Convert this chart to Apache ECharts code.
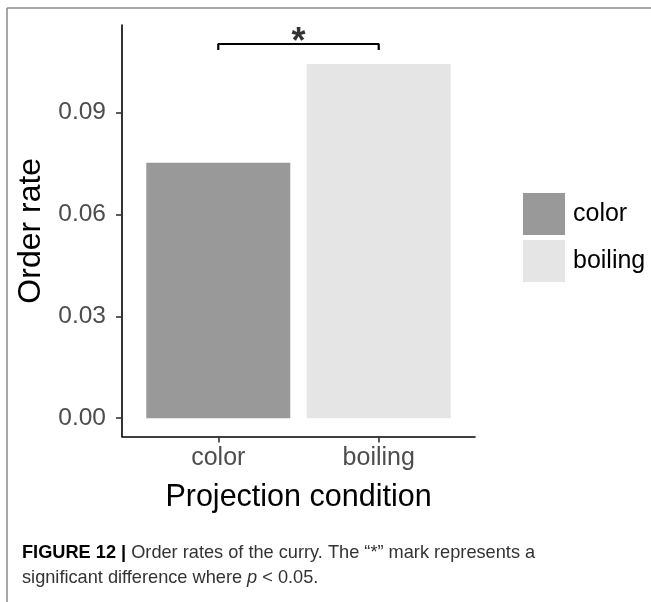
<!DOCTYPE html>
<html>
<head>
<meta charset="utf-8">
<script src="https://cdn.jsdelivr.net/npm/echarts@6/dist/echarts.min.js"></script>
<style>html,body{margin:0;padding:0;background:#fff;}#main{width:651px;height:602px;}</style>
</head>
<body>
<div id="main"></div>
<script>
// ---- data ----
const categories = ['color', 'boiling'];
const categoryPos = [1, 2];
const orderRate = [0.0752, 0.1043];
const barColors = ['#999999', '#E5E5E5'];
const yTicks = [0, 0.03, 0.06, 0.09];
const bracketX = [1, 1, 2, 2];
const bracketY = [0.1084, 0.1102, 0.1102, 0.1084];
const sigMark = '*';

const chart = echarts.init(document.getElementById('main'));
const font = '"Liberation Sans", Arial, Helvetica, sans-serif';

const barSeries = categories.map((c, i) => ({
  name: c,
  type: 'bar',
  data: [[categoryPos[i], orderRate[i]]],
  barWidth: 144,
  barGap: '-100%',
  itemStyle: { color: barColors[i] },
  emphasis: { disabled: true },
  z: 2
}));

const option = {
  animation: false,
  textStyle: { fontFamily: font },
  grid: { left: 122, top: 25, width: 353, height: 411.5, containLabel: false },
  legend: {
    orient: 'vertical',
    left: 523, top: 193, padding: 0,
    itemWidth: 42, itemHeight: 42, itemGap: 5,
    icon: 'rect',
    data: categories,
    textStyle: { fontSize: 25, color: '#000', fontFamily: font, padding: [0, 0, 0, 3] },
    selectedMode: false
  },
  xAxis: {
    type: 'value', min: 0.4, max: 2.6,
    axisLine: { show: true, onZero: false, lineStyle: { color: '#000', width: 1.6 } },
    axisTick: { show: true, customValues: categoryPos, length: 6, lineStyle: { color: '#333', width: 1.6 } },
    axisLabel: { customValues: categoryPos, formatter: v => categories[Math.round(v) - 1], fontSize: 25, color: '#4D4D4D', margin: 9, fontFamily: font },
    splitLine: { show: false },
    name: 'Projection condition', nameLocation: 'middle', nameGap: 46,
    nameTextStyle: { fontSize: 30.5, color: '#000', fontFamily: font }
  },
  yAxis: {
    type: 'value', min: -0.0054, max: 0.1158,
    axisLine: { show: true, onZero: false, lineStyle: { color: '#000', width: 1.6 } },
    axisTick: { show: true, customValues: yTicks, length: 6, lineStyle: { color: '#333', width: 1.6 } },
    axisLabel: { customValues: yTicks, formatter: v => v.toFixed(2), fontSize: 24.5, color: '#4D4D4D', margin: 16, fontFamily: font },
    splitLine: { show: false },
    name: 'Order rate', nameLocation: 'middle', nameGap: 67, nameRotate: 90,
    nameTextStyle: { fontSize: 32, color: '#000', fontFamily: font }
  },
  series: barSeries.concat([
    {
      type: 'line',
      data: bracketX.map((x, i) => [x, bracketY[i]]),
      symbol: 'none',
      lineStyle: { color: '#000', width: 2.2 },
      silent: true, z: 3
    },
    {
      type: 'scatter',
      data: [[(bracketX[0] + bracketX[3]) / 2, bracketY[1]]],
      symbolSize: 0,
      label: { show: true, position: 'top', formatter: sigMark, fontSize: 36, fontWeight: 'bold', color: '#000', distance: 0, offset: [0, 17], fontFamily: font },
      silent: true, z: 3
    }
  ]),
  graphic: [
    { type: 'line', shape: { x1: 7, y1: 8, x2: 651, y2: 8 }, style: { stroke: '#8a8a8a', lineWidth: 1.5 } },
    { type: 'line', shape: { x1: 7, y1: 8, x2: 7, y2: 602 }, style: { stroke: '#8a8a8a', lineWidth: 1.5 } },
    {
      type: 'text', left: 22, top: 540,
      style: {
        text: '{b|FIGURE 12 |} Order rates of the curry. The \u201c*\u201d mark represents a\nsignificant difference where {i|p} < 0.05.',
        fontFamily: font, fontSize: 18.2, lineHeight: 25, fill: '#333',
        rich: {
          b: { fontWeight: 'bold', fill: '#000', fontSize: 18.2, fontFamily: font },
          i: { fontStyle: 'italic', fontSize: 18.2, fontFamily: font, fill: '#333' }
        }
      }
    }
  ]
};
chart.setOption(option);
</script>
</body>
</html>
